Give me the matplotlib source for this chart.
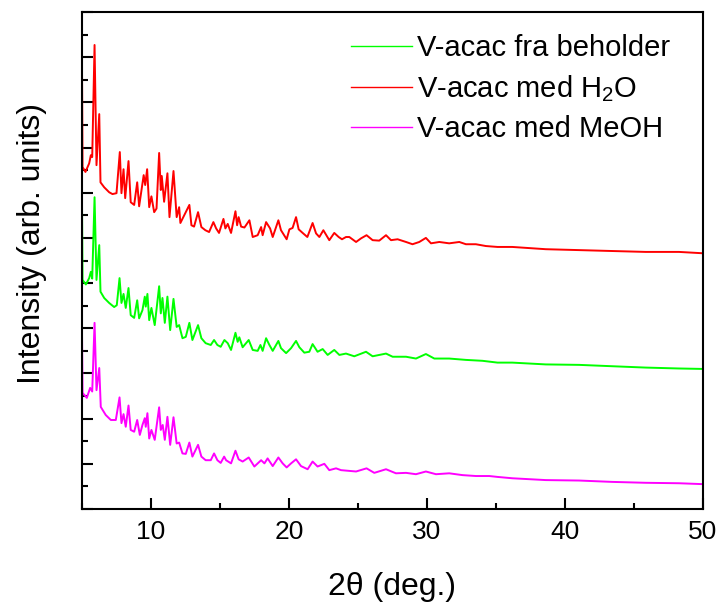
import matplotlib
matplotlib.use('Agg')
import matplotlib.pyplot as plt
from matplotlib.ticker import MultipleLocator

plt.rcParams['font.family'] = ['Liberation Sans', 'DejaVu Sans']
plt.rcParams['mathtext.fontset'] = 'custom'
plt.rcParams['mathtext.rm'] = 'Liberation Sans'
plt.rcParams['mathtext.it'] = 'Liberation Sans:italic'

# 2theta / intensity (arb. units, offset traces)
red_x = [5.00, 5.04, 5.25, 5.52, 5.64, 5.74, 5.91, 6.05, 6.25, 6.34, 6.61, 6.97, 7.21, 7.50,
         7.74, 7.86, 8.01, 8.13, 8.37, 8.53, 8.78, 9.00, 9.14, 9.47, 9.58, 9.72, 9.87, 10.03,
         10.23, 10.40, 10.59, 10.71, 10.78, 10.95, 11.19, 11.34, 11.63, 11.86, 12.04, 12.13,
         12.78, 12.93, 13.12, 13.41, 13.65, 13.94, 14.21, 14.52, 14.72, 14.93, 15.25, 15.39,
         15.56, 15.80, 16.12, 16.24, 16.35, 16.53, 16.77, 17.13, 17.37, 17.73, 17.98, 18.09,
         18.34, 18.63, 18.82, 19.23, 19.42, 19.83, 20.03, 20.26, 20.51, 20.70, 20.99, 21.33,
         21.71, 21.96, 22.20, 22.49, 22.92, 23.28, 23.60, 23.84, 24.13, 24.37, 24.86, 25.22,
         25.62, 26.06, 26.54, 27.03, 27.39, 27.87, 28.48, 28.95, 29.44, 29.92, 30.29, 30.89,
         31.61, 32.34, 32.82, 33.54, 34.27, 35.11, 36.18, 38.61, 41.02, 43.41, 45.85, 48.26, 50.00]
red_y = [9.76, 7.57, 7.46, 7.65, 7.83, 7.79, 10.27, 7.61, 8.74, 7.23, 7.12, 7.01, 6.97, 6.99,
         7.90, 6.99, 7.52, 6.88, 7.70, 6.79, 6.73, 7.23, 6.70, 7.39, 7.17, 7.52, 6.68, 6.92,
         6.57, 6.65, 7.88, 7.06, 7.37, 6.80, 7.43, 6.46, 7.48, 6.46, 6.68, 6.33,
         6.73, 6.28, 6.25, 6.57, 6.24, 6.17, 6.13, 6.35, 6.21, 6.11, 6.42, 6.21,
         6.31, 6.11, 6.59, 6.28, 6.46, 6.25, 6.23, 6.39, 6.02, 6.06, 6.24, 6.06,
         6.35, 6.21, 6.02, 6.39, 6.17, 5.97, 6.19, 6.22, 6.46, 6.19, 6.11, 6.02,
         6.33, 6.10, 6.02, 6.17, 5.95, 6.11, 6.02, 5.97, 6.02, 6.02, 5.91, 5.99,
         6.06, 5.95, 5.94, 6.06, 5.95, 5.97, 5.91, 5.86, 5.91, 6.00, 5.88, 5.91,
         5.88, 5.91, 5.86, 5.86, 5.82, 5.80, 5.80, 5.75, 5.73, 5.71, 5.69, 5.69, 5.66]

green_x = [5.00, 5.04, 5.28, 5.52, 5.64, 5.74, 5.91, 6.05, 6.25, 6.34, 6.61, 6.97, 7.33, 7.52,
           7.72, 7.86, 8.01, 8.17, 8.37, 8.53, 8.78, 9.00, 9.14, 9.38, 9.55, 9.62, 9.74, 9.87,
           10.03, 10.27, 10.59, 10.71, 10.83, 11.00, 11.19, 11.39, 11.63, 11.86, 12.04, 12.28,
           12.52, 12.78, 13.00, 13.41, 13.65, 13.96, 14.33, 14.57, 14.81, 15.05, 15.32, 15.56,
           15.80, 16.12, 16.28, 16.40, 16.64, 17.08, 17.37, 17.73, 17.93, 18.09, 18.34, 18.58,
           18.82, 19.23, 19.42, 19.79, 20.15, 20.51, 20.75, 21.11, 21.47, 21.71, 22.07, 22.44,
           22.80, 23.28, 23.65, 24.13, 24.73, 25.58, 26.06, 27.03, 27.51, 28.48, 29.20, 29.92,
           30.53, 31.61, 32.82, 34.02, 35.11, 36.18, 38.61, 41.02, 43.41, 45.85, 48.26, 50.00]
green_y = [6.76, 5.07, 4.97, 5.11, 5.25, 5.10, 6.90, 5.07, 5.84, 4.81, 4.67, 4.56, 4.47, 4.51,
           5.11, 4.56, 4.76, 4.45, 4.89, 4.29, 4.23, 4.62, 4.22, 4.40, 4.70, 4.48, 4.76, 4.18,
           4.45, 4.07, 4.93, 4.33, 4.67, 4.12, 4.70, 3.96, 4.65, 4.03, 4.07, 3.78,
           3.81, 4.12, 3.74, 4.07, 3.78, 3.67, 3.63, 3.74, 3.63, 3.59, 3.74, 3.67,
           3.52, 3.90, 3.70, 3.80, 3.58, 3.74, 3.52, 3.50, 3.63, 3.50, 3.78, 3.63,
           3.50, 3.72, 3.56, 3.45, 3.56, 3.72, 3.58, 3.46, 3.48, 3.65, 3.48, 3.54,
           3.41, 3.52, 3.41, 3.44, 3.38, 3.48, 3.38, 3.44, 3.37, 3.37, 3.33, 3.43,
           3.33, 3.33, 3.30, 3.28, 3.24, 3.24, 3.20, 3.19, 3.16, 3.13, 3.11, 3.10]

mag_x = [5.00, 5.04, 5.35, 5.59, 5.74, 5.91, 6.05, 6.25, 6.36, 6.72, 7.09, 7.45, 7.72, 7.86,
         8.01, 8.17, 8.37, 8.53, 8.78, 9.00, 9.19, 9.38, 9.55, 9.62, 9.74, 9.87, 10.03, 10.27,
         10.59, 10.71, 10.85, 11.00, 11.19, 11.39, 11.63, 11.86, 12.04, 12.28, 12.52, 12.78,
         13.00, 13.41, 13.65, 13.96, 14.33, 14.57, 14.81, 15.05, 15.30, 15.44, 15.80, 16.12,
         16.35, 16.64, 17.08, 17.49, 17.98, 18.22, 18.45, 18.82, 19.23, 19.54, 19.83, 20.15,
         20.51, 20.87, 21.35, 21.71, 22.07, 22.56, 22.92, 23.41, 23.77, 24.13, 24.86, 25.62,
         26.18, 27.03, 27.75, 28.48, 29.20, 29.92, 30.65, 31.61, 32.57, 33.54, 34.51, 35.11,
         36.19, 38.61, 41.02, 43.41, 45.85, 48.26, 50.00]
mag_y = [3.89, 2.57, 2.46, 2.68, 2.60, 4.12, 2.63, 3.12, 2.26, 2.08, 1.97, 1.97, 2.47, 1.90,
         2.10, 1.82, 2.29, 1.75, 1.71, 1.97, 1.64, 1.86, 2.01, 1.82, 2.12, 1.56, 1.75, 1.53,
         2.25, 1.75, 1.86, 1.53, 2.04, 1.42, 2.03, 1.45, 1.47, 1.23, 1.22, 1.47,
         1.16, 1.42, 1.16, 1.08, 1.08, 1.23, 1.08, 1.02, 1.16, 1.08, 1.01, 1.29,
         1.10, 1.05, 1.14, 0.94, 1.08, 1.01, 1.12, 0.95, 1.14, 1.01, 0.92, 1.01,
         1.10, 0.95, 0.88, 1.05, 0.94, 1.00, 0.86, 0.90, 0.86, 0.85, 0.83, 0.90,
         0.80, 0.88, 0.79, 0.80, 0.77, 0.83, 0.77, 0.79, 0.75, 0.73, 0.73, 0.71,
         0.68, 0.64, 0.63, 0.60, 0.58, 0.57, 0.55]

labels = ['V-acac fra beholder', 'V-acac med H$_2$O', 'V-acac med MeOH']

fig = plt.figure(figsize=(7.19, 6.05), dpi=100)
ax = fig.add_axes([82/719, 1 - 509/605, (703 - 82)/719, (509 - 12)/605])

ax.plot(green_x, green_y, color='#00ff00', lw=1.4, label=labels[0])
ax.plot(red_x, red_y, color='#ff0000', lw=1.4, label=labels[1])
ax.plot(mag_x, mag_y, color='#ff00ff', lw=1.4, label=labels[2])

ax.set_xlim(5, 50)
ax.set_ylim(0, 11)
ax.xaxis.set_major_locator(MultipleLocator(10))
ax.xaxis.set_minor_locator(MultipleLocator(5))
ax.yaxis.set_major_locator(MultipleLocator(1))
ax.yaxis.set_minor_locator(MultipleLocator(0.5))
ax.set_yticklabels([])
ax.tick_params(which='both', direction='in', width=1.5, labelsize=19, pad=8)
ax.tick_params(which='major', length=8)
ax.tick_params(which='minor', length=4)
for s in ax.spines.values():
    s.set_linewidth(1.5)

ax.set_xlabel('2θ (deg.)', fontsize=23, labelpad=20)
ax.set_ylabel('Intensity (arb. units)', fontsize=23)
ax.yaxis.set_label_coords(-0.056, 0.535)

leg = ax.legend(loc='upper left', bbox_to_anchor=(0.433, 0.955), frameon=False,
                fontsize=21, handlelength=2.1, handletextpad=0.15, labelspacing=0.38,
                borderpad=0, borderaxespad=0)
for h in leg.get_lines():
    h.set_linewidth(1.0)

fig.savefig('out.png', dpi=100)
